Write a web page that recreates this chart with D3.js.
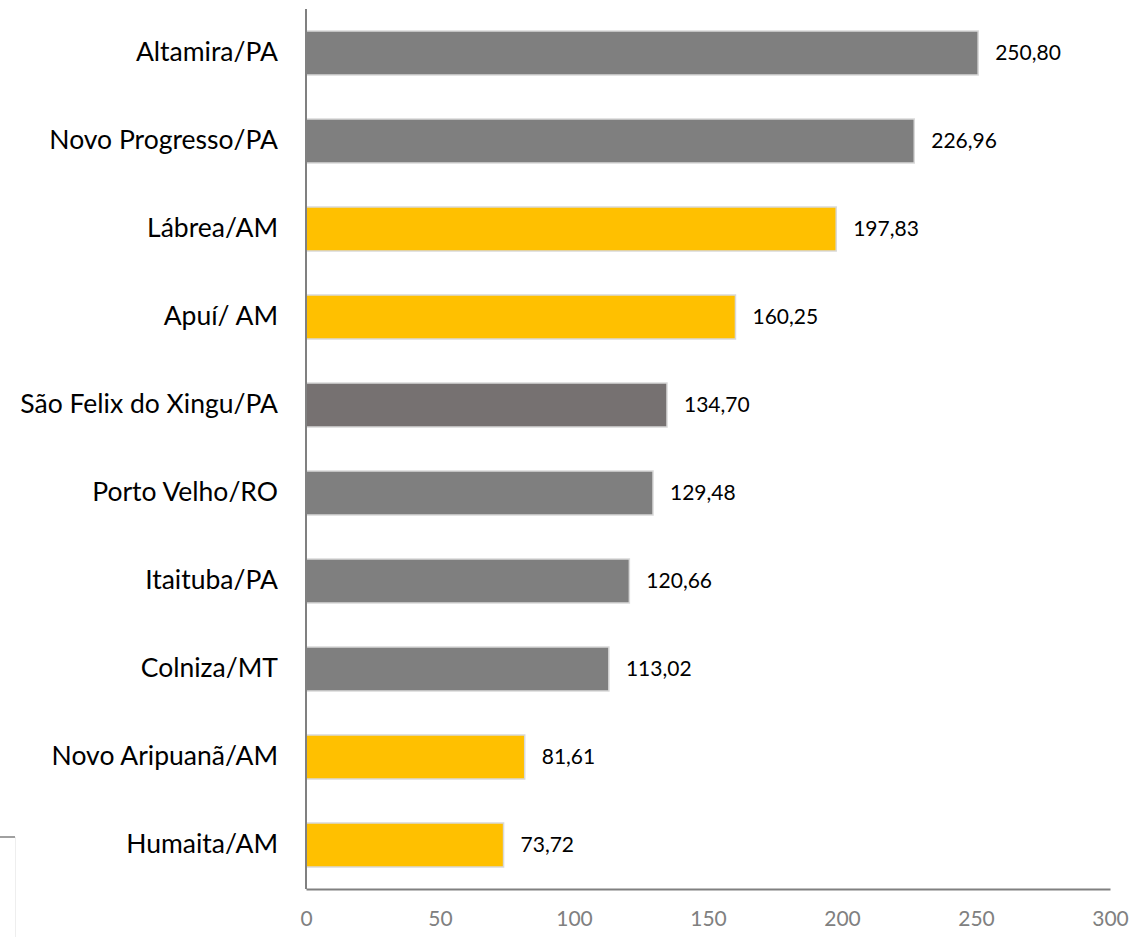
<!DOCTYPE html>
<html><head><meta charset="utf-8">
<script src="https://cdn.jsdelivr.net/npm/d3@7"></script>
<style>body{margin:0;background:#fff}svg{display:block}</style>
</head><body>
<script>
const categories = ["Altamira/PA","Novo Progresso/PA","Lábrea/AM","Apuí/ AM","São Felix do Xingu/PA","Porto Velho/RO","Itaituba/PA","Colniza/MT","Novo Aripuanã/AM","Humaita/AM"];
const values = [250.80,226.96,197.83,160.25,134.70,129.48,120.66,113.02,81.61,73.72];
const colors = ["#7f7f7f","#7f7f7f","#ffc000","#ffc000","#767171","#7f7f7f","#7f7f7f","#7f7f7f","#ffc000","#ffc000"];
const xTicks = [0,50,100,150,200,250,300];

const W=1129,H=937;
const svg=d3.select("body").append("svg").attr("width",W).attr("height",H);
const font="Lato, 'Open Sans', sans-serif";
const x=d3.scaleLinear().domain([0,300]).range([306,1110]);
const y=d3.scaleBand().domain(categories).range([9,889]).paddingInner(0.5).paddingOuter(0.25);

// decorative fragment at bottom-left
svg.append("line").attr("x1",0).attr("x2",15).attr("y1",837).attr("y2",837).attr("stroke","#808080").attr("stroke-width",1.5);
svg.append("line").attr("x1",15.5).attr("x2",15.5).attr("y1",837).attr("y2",937).attr("stroke","#eeeeee").attr("stroke-width",1);

const data=categories.map((c,i)=>({c,v:values[i],col:colors[i]}));
svg.selectAll("rect.bar").data(data).enter().append("rect").attr("class","bar")
 .attr("x",x(0)).attr("y",d=>y(d.c)).attr("width",d=>x(d.v)-x(0)).attr("height",y.bandwidth())
 .attr("fill",d=>d.col).attr("stroke","#d9d9d9").attr("stroke-width",1.5);

svg.selectAll("text.val").data(data).enter().append("text").attr("class","val")
 .attr("x",d=>x(d.v)+17).attr("y",d=>y(d.c)+y.bandwidth()/2).attr("dy","0.35em")
 .attr("font-family",font).attr("font-size",21).attr("fill","#000")
 .text(d=>d3.format(".2f")(d.v).replace(".",","));

// y axis
const ya=svg.append("g").attr("transform",`translate(${x(0)},0)`).call(d3.axisLeft(y).tickSize(0).tickPadding(28));
ya.select(".domain").attr("stroke","#808080").attr("stroke-width",2).attr("d","M0,9V889");
ya.selectAll("text").attr("font-family",font).attr("font-size",26.5).attr("fill","#000");

// x axis
const xa=svg.append("g").attr("transform","translate(0,889)").call(d3.axisBottom(x).tickValues(xTicks).tickSize(0).tickPadding(22));
xa.select(".domain").attr("stroke","#808080").attr("stroke-width",2);
xa.selectAll("text").attr("font-family",font).attr("font-size",21).attr("fill","#808080");
</script>
</body></html>
